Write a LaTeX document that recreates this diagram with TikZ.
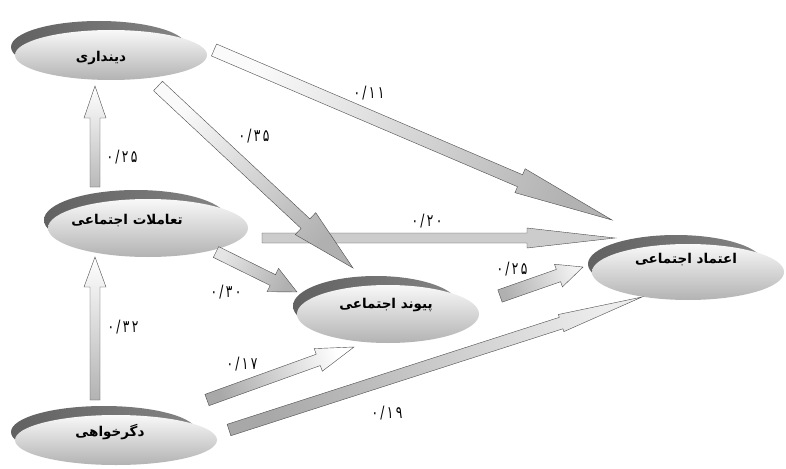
\documentclass[tikz,border=0pt]{standalone}
\usepackage{fontspec}
\usetikzlibrary{calc,shapes.geometric}
\newfontfamily\arabicfont[Script=Arabic]{DejaVu Sans}
\newfontfamily\numfont[FakeStretch=0.72, LetterSpace=14]{DejaVu Sans}
\TeXXeTstate=1
\tikzset{
  ovalbody/.style={ellipse, inner sep=0pt, top color=gray!5, bottom color=gray!60},
  crescent/.style={left color=black!62, right color=black!48},
  ovaltext/.style={font=\arabicfont\bfseries\fontsize{13.5}{15}\selectfont, inner sep=0pt},
  wlabel/.style={font=\numfont\fontsize{17}{18}\selectfont, inner sep=1pt},
  arrline/.style={draw=gray!60!black, line width=0.4pt}
}
% name, x, y, rx, ry
\newcommand\ovalnode[5]{%
  \shade[crescent] (#2-12,#3-8) ellipse [x radius=#4-8, y radius=#5+1];
  \node[ovalbody, minimum width={2*#4pt}, minimum height={2*#5pt}] (#1) at (#2,#3) {};
}
% tail, tip, shaft half width, head half width, head length, shading
\newcommand\blockarr[6]{%
  \coordinate (bb) at ($(#2)!#5pt!(#1)$);
  \shadedraw[arrline, #6]
    ($(#1)!#3pt!90:(#2)$) -- ($(bb)!#3pt!90:(#2)$) -- ($(bb)!#4pt!90:(#2)$) -- (#2)
    -- ($(bb)!#4pt!-90:(#2)$) -- ($(bb)!#3pt!-90:(#2)$) -- ($(#1)!#3pt!-90:(#2)$) -- cycle;
}
\begin{document}
\begin{tikzpicture}[x=1pt,y=-1pt]
\useasboundingbox (0,0) rectangle (786,468);
\fill[white] (0,0) rectangle (786,468);

% ovals
\ovalnode{din}{111}{55}{96}{25}
\ovalnode{taam}{148}{228}{100}{29}
\ovalnode{peyv}{388}{314}{91}{29}
\ovalnode{etem}{688}{272}{96}{28}
\ovalnode{degar}{116}{440}{101}{25}

\node[ovaltext] (dint) at (101,58) {\beginR دینداری\endR};
\node[ovaltext] (taamt) at (127,221) {\beginR تعاملات اجتماعی\endR};
\node[ovaltext] (peyvt) at (386,305) {\beginR پیوند اجتماعی\endR};
\node[ovaltext] (etemt) at (686,260) {\beginR اعتماد اجتماعی\endR};
\node[ovaltext] (degart) at (110,432) {\beginR دگرخواهی\endR};

% arrow ends
\coordinate (aT) at (95,187); \coordinate (aH) at (95,86);
\coordinate (bT) at (95,400); \coordinate (bH) at (95,257);
\coordinate (cT) at (214,50); \coordinate (cH) at (612,220);
\coordinate (dT) at (158,86); \coordinate (dH) at (353,268);
\coordinate (eT) at (262,238); \coordinate (eH) at (615,238);
\coordinate (fT) at (216,252); \coordinate (fH) at (297,292);
\coordinate (gT) at (500,296); \coordinate (gH) at (583,267);
\coordinate (hT) at (207,400); \coordinate (hH) at (354,347);
\coordinate (iT) at (229,430); \coordinate (iH) at (642,297);

\blockarr{aT}{aH}{5}{11}{32}{top color=gray!55, bottom color=white, shading angle=180}
\blockarr{bT}{bH}{5}{11}{30}{top color=gray!60, bottom color=white, shading angle=180}
\blockarr{eT}{eH}{5}{10}{88}{top color=gray!40, middle color=gray!3, bottom color=gray!40, shading angle=0}
\blockarr{cT}{cH}{6.5}{13}{100}{top color=gray!4, bottom color=gray!60, shading angle=66.87}
\blockarr{dT}{dH}{6.5}{15}{65}{top color=gray!4, bottom color=gray!62, shading angle=47}
\blockarr{fT}{fH}{6}{13}{27}{top color=gray!20, bottom color=gray!62, shading angle=63.7}
\blockarr{gT}{gH}{6.5}{12}{26}{top color=gray!62, bottom color=gray!10, shading angle=109.3}
\blockarr{hT}{hH}{6}{12}{38}{top color=gray!68, bottom color=white, shading angle=109.8}
\blockarr{iT}{iH}{6}{9}{85}{top color=gray!68, bottom color=gray!15, shading angle=107.85}

% weights
\node[wlabel] (la) at (122,157) {۰/۲۵};
\node[wlabel] (lb) at (123,327) {۰/۳۲};
\node[wlabel] (lc) at (369,93) {۰/۱۱};
\node[wlabel] (ld) at (254,136) {۰/۳۵};
\node[wlabel] (le) at (427,221) {۰/۲۰};
\node[wlabel] (lf) at (226,292) {۰/۳۰};
\node[wlabel] (lg) at (512,269) {۰/۲۵};
\node[wlabel] (lh) at (242,364) {۰/۱۷};
\node[wlabel] (li) at (387,413) {۰/۱۹};
\end{tikzpicture}
\end{document}
